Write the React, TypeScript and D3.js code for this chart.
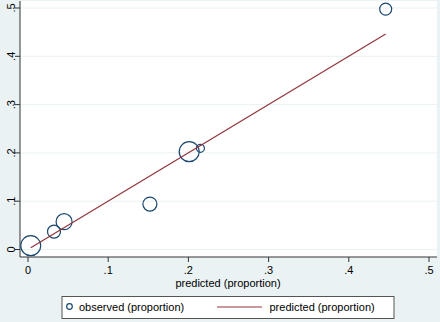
import React from "react";
import * as d3 from "d3";

const predicted = [0.0034, 0.0324, 0.045, 0.152, 0.201, 0.215, 0.446];
const observed = [0.008, 0.037, 0.0576, 0.094, 0.2025, 0.2095, 0.4977];
const weights = [100, 42, 64, 49, 100, 16, 36];
const xTicks = [0, 0.1, 0.2, 0.3, 0.4, 0.5];
const yTicks = [0, 0.1, 0.2, 0.3, 0.4, 0.5];
const xTitle = "predicted (proportion)";
const legendLabels = ["observed (proportion)", "predicted (proportion)"];

const fmt = (v: number) => (v === 0 ? "0" : d3.format(".1f")(v).replace(/^0/, ""));

export default function App() {
  const W = 440, H = 322;
  const x = d3.scaleLinear().domain([0, 0.5]).range([28, 429]);
  const y = d3.scaleLinear().domain([0, 0.5]).range([249.5, 8]);
  const r = d3.scaleSqrt().domain([0, 100]).range([0, 10]);
  const line = d3.line<number>().x((d) => x(d)).y((d) => y(d));
  const navy = "#1a476f";
  const maroon = "#90353b";
  const font = "Liberation Sans, Arial, sans-serif";
  return (
    <svg width={W} height={H} style={{ position: "absolute", left: 0, top: 0 }}>
      <rect x={0} y={0} width={W} height={H} fill="#eaf2f3" />
      <rect x={20} y={1} width={417} height={256} fill="#ffffff" />
      {yTicks.map((t) => (
        <line key={"g" + t} x1={20} x2={437} y1={y(t)} y2={y(t)} stroke="#eaf2f3" strokeWidth={1} />
      ))}
      <line x1={20} x2={20} y1={1} y2={257} stroke="#333" strokeWidth={1} />
      <line x1={20} x2={437} y1={257} y2={257} stroke="#333" strokeWidth={1} />
      {yTicks.map((t) => (
        <g key={"y" + t}>
          <line x1={15} x2={20} y1={y(t)} y2={y(t)} stroke="#333" />
          <text
            transform={`translate(14.5,${y(t)}) rotate(-90)`}
            textAnchor="middle"
            fontFamily={font}
            fontSize={11}
            fill="#000"
          >
            {fmt(t)}
          </text>
        </g>
      ))}
      {xTicks.map((t) => (
        <g key={"x" + t}>
          <line x1={x(t)} x2={x(t)} y1={257} y2={262} stroke="#333" />
          <text x={x(t)} y={274} textAnchor="middle" fontFamily={font} fontSize={11} fill="#000">
            {fmt(t)}
          </text>
        </g>
      ))}
      <text x={228} y={287} textAnchor="middle" fontFamily={font} fontSize={11} fill="#000">
        {xTitle}
      </text>
      {predicted.map((p, i) => (
        <circle key={"c" + i} cx={x(p)} cy={y(observed[i])} r={r(weights[i])} fill="none" stroke={navy} strokeWidth={1.2} />
      ))}
      <path d={line([predicted[0], predicted[predicted.length - 1]]) || ""} fill="none" stroke={maroon} strokeWidth={1.2} />
      <rect x={62} y={296.5} width={332} height={22} fill="#fff" stroke="#555" strokeWidth={1} />
      <circle cx={69.5} cy={306.5} r={2.8} fill="none" stroke={navy} strokeWidth={1.2} />
      <text x={79} y={311} fontFamily={font} fontSize={11} fill="#000">{legendLabels[0]}</text>
      <line x1={217} x2={262} y1={307} y2={307} stroke={maroon} strokeWidth={1.2} />
      <text x={269.5} y={311} fontFamily={font} fontSize={11} fill="#000">{legendLabels[1]}</text>
    </svg>
  );
}
